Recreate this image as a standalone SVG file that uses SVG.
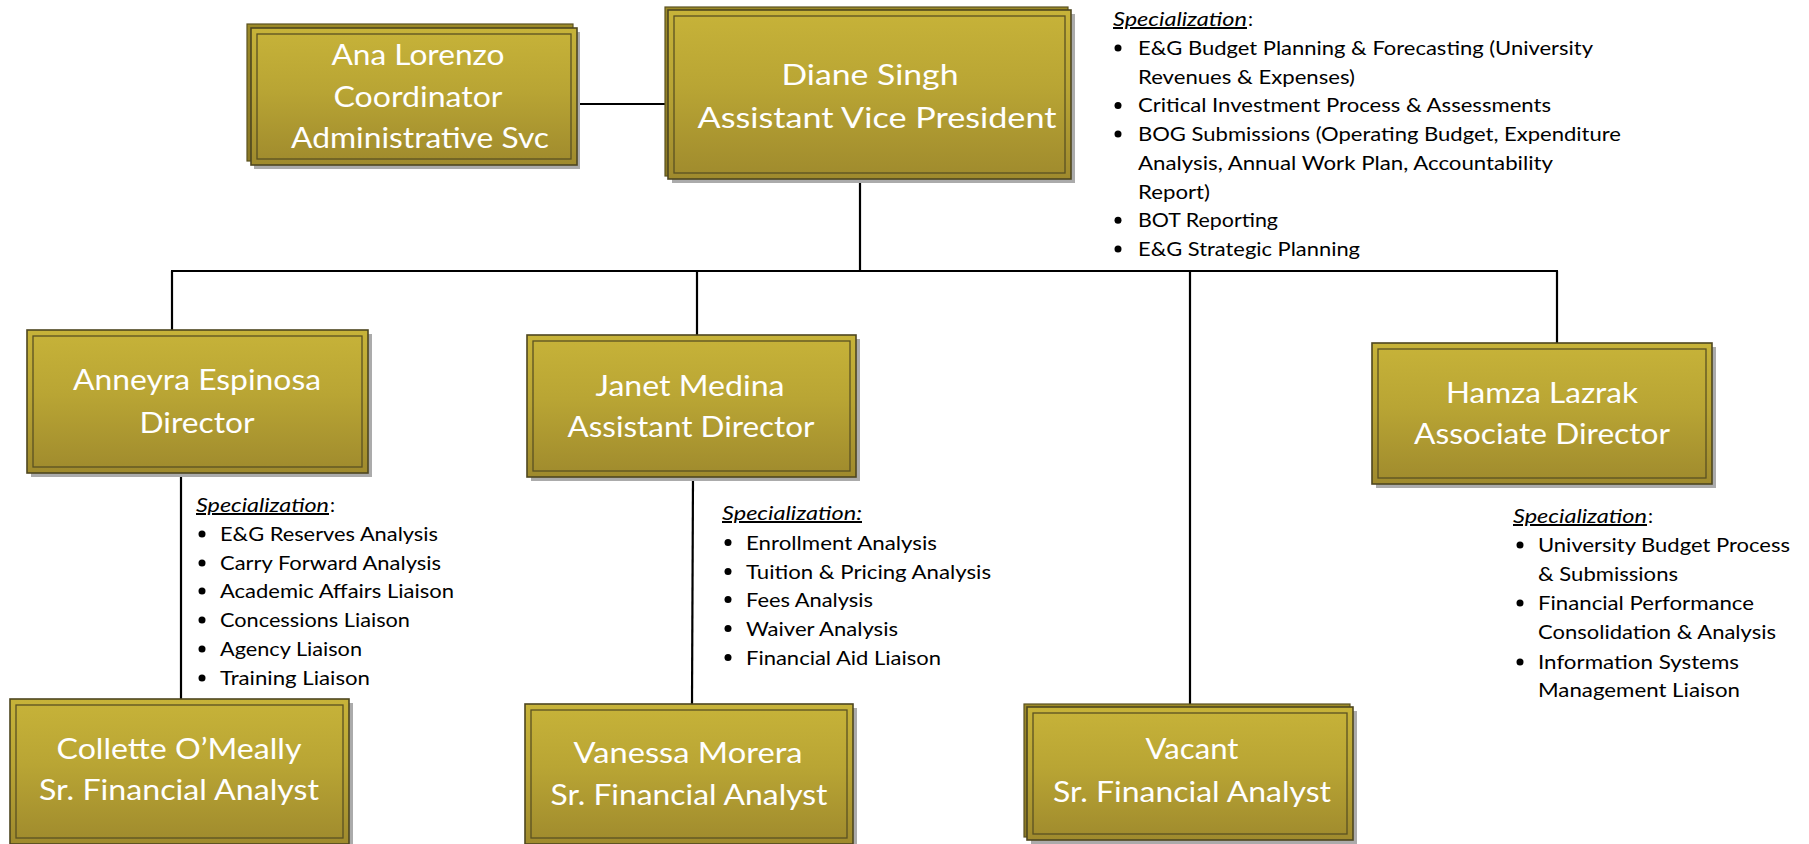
<svg xmlns="http://www.w3.org/2000/svg" width="1809" height="844" viewBox="0 0 1809 844">
<defs>
<linearGradient id="gold" x1="0" y1="0" x2="0" y2="1">
<stop offset="0" stop-color="#c7b339"/>
<stop offset="0.45" stop-color="#b9a534"/>
<stop offset="1" stop-color="#9f8a2d"/>
</linearGradient>
<linearGradient id="goldBack" x1="0" y1="0" x2="0" y2="1">
<stop offset="0" stop-color="#9c8a28"/>
<stop offset="1" stop-color="#8a7825"/>
</linearGradient>
</defs>
<style>
.shadow{fill:#ababab}
.back{fill:url(#goldBack);stroke:#5b5220;stroke-width:1.2}
.box{fill:url(#gold);stroke:#4e4620;stroke-width:1.6}
.inner{fill:none;stroke:#5a5122;stroke-width:1.3}
.title{font-family:Lato,"Open Sans",sans-serif;font-size:29px;fill:#ffffff;text-anchor:middle}
.item{font-family:Lato,"Open Sans",sans-serif;font-size:20px;fill:#000000}
.spec{font-family:Lato,"Open Sans",sans-serif;font-size:20px;font-style:italic;text-decoration:underline;fill:#000000}
.bul{fill:#000000}
.conn{stroke:#000000;stroke-width:2.2;fill:none}
</style>

<g id="connectors">
<line class="conn" x1="577" y1="104" x2="668" y2="104"/>
<line class="conn" x1="860" y1="179" x2="860" y2="271"/>
<line class="conn" x1="171" y1="271" x2="1558" y2="271" stroke-width="2.6"/>
<line class="conn" x1="172" y1="271" x2="172" y2="330"/>
<line class="conn" x1="697" y1="271" x2="697" y2="335"/>
<line class="conn" x1="1190" y1="271" x2="1190" y2="704"/>
<line class="conn" x1="1557" y1="271" x2="1557" y2="343" stroke-width="3"/>
<line class="conn" x1="181" y1="462" x2="181" y2="699"/>
<line class="conn" x1="693" y1="477" x2="692" y2="704"/>
</g>

<g id="ana">
<rect class="shadow" x="254" y="32" width="326" height="137"/>
<rect class="back" x="247" y="24" width="326" height="137"/>
<rect class="box" x="251" y="28" width="326" height="137"/>
<rect class="inner" x="257" y="34" width="314" height="125"/>
<text class="title" x="418" y="65" textLength="173" lengthAdjust="spacingAndGlyphs">Ana Lorenzo</text>
<text class="title" x="418" y="107" textLength="169" lengthAdjust="spacingAndGlyphs">Coordinator</text>
<text class="title" x="420" y="148" textLength="258" lengthAdjust="spacingAndGlyphs">Administrative Svc</text>
</g>

<g id="diane">
<rect class="shadow" x="672" y="14" width="403" height="169"/>
<rect class="back" x="665" y="7" width="403" height="169"/>
<rect class="box" x="668" y="10" width="403" height="169"/>
<rect class="inner" x="674" y="16" width="391" height="157"/>
<text class="title" x="870" y="85" textLength="177" lengthAdjust="spacingAndGlyphs">Diane Singh</text>
<text class="title" x="877" y="128" textLength="359" lengthAdjust="spacingAndGlyphs">Assistant Vice President</text>
</g>

<g id="diane-spec">
<text class="spec" x="1113" y="26" textLength="134" lengthAdjust="spacingAndGlyphs">Specialization</text>
<text class="item" x="1248" y="26">:</text>
<circle class="bul" cx="1118" cy="48" r="3.5"/>
<circle class="bul" cx="1118" cy="105.4" r="3.5"/>
<circle class="bul" cx="1118" cy="134.1" r="3.5"/>
<circle class="bul" cx="1118" cy="220.2" r="3.5"/>
<circle class="bul" cx="1118" cy="248.9" r="3.5"/>
<text class="item" x="1138" y="55" textLength="455" lengthAdjust="spacingAndGlyphs">E&amp;G Budget Planning &amp; Forecasting (University</text>
<text class="item" x="1138" y="83.7" textLength="217" lengthAdjust="spacingAndGlyphs">Revenues &amp; Expenses)</text>
<text class="item" x="1138" y="112.4" textLength="413" lengthAdjust="spacingAndGlyphs">Critical Investment Process &amp; Assessments</text>
<text class="item" x="1138" y="141.1" textLength="483" lengthAdjust="spacingAndGlyphs">BOG Submissions (Operating Budget, Expenditure</text>
<text class="item" x="1138" y="169.8" textLength="415" lengthAdjust="spacingAndGlyphs">Analysis, Annual Work Plan, Accountability</text>
<text class="item" x="1138" y="198.5" textLength="72" lengthAdjust="spacingAndGlyphs">Report)</text>
<text class="item" x="1138" y="227.2" textLength="140" lengthAdjust="spacingAndGlyphs">BOT Reporting</text>
<text class="item" x="1138" y="255.9" textLength="222" lengthAdjust="spacingAndGlyphs">E&amp;G Strategic Planning</text>
</g>

<g id="anneyra">
<rect class="shadow" x="31" y="334" width="341" height="143"/>
<rect class="box" x="27" y="330" width="341" height="143"/>
<rect class="inner" x="33" y="336" width="329" height="131"/>
<text class="title" x="197" y="390" textLength="248" lengthAdjust="spacingAndGlyphs">Anneyra Espinosa</text>
<text class="title" x="197" y="433" textLength="115" lengthAdjust="spacingAndGlyphs">Director</text>
</g>

<g id="anneyra-spec">
<text class="spec" x="196" y="512" textLength="133" lengthAdjust="spacingAndGlyphs">Specialization</text>
<text class="item" x="330" y="512">:</text>
<circle class="bul" cx="202" cy="534" r="3.5"/>
<circle class="bul" cx="202" cy="563" r="3.5"/>
<circle class="bul" cx="202" cy="591" r="3.5"/>
<circle class="bul" cx="202" cy="620" r="3.5"/>
<circle class="bul" cx="202" cy="649" r="3.5"/>
<circle class="bul" cx="202" cy="678" r="3.5"/>
<text class="item" x="220" y="541" textLength="218" lengthAdjust="spacingAndGlyphs">E&amp;G Reserves Analysis</text>
<text class="item" x="220" y="570" textLength="221" lengthAdjust="spacingAndGlyphs">Carry Forward Analysis</text>
<text class="item" x="220" y="598" textLength="234" lengthAdjust="spacingAndGlyphs">Academic Affairs Liaison</text>
<text class="item" x="220" y="627" textLength="190" lengthAdjust="spacingAndGlyphs">Concessions Liaison</text>
<text class="item" x="220" y="656" textLength="142" lengthAdjust="spacingAndGlyphs">Agency Liaison</text>
<text class="item" x="220" y="685" textLength="150" lengthAdjust="spacingAndGlyphs">Training Liaison</text>
</g>

<g id="janet">
<rect class="shadow" x="531" y="339" width="329" height="142"/>
<rect class="box" x="527" y="335" width="329" height="142"/>
<rect class="inner" x="533" y="341" width="317" height="130"/>
<text class="title" x="690" y="396" textLength="189" lengthAdjust="spacingAndGlyphs">Janet Medina</text>
<text class="title" x="691" y="437" textLength="247" lengthAdjust="spacingAndGlyphs">Assistant Director</text>
</g>

<g id="janet-spec">
<text class="spec" x="722" y="520" textLength="140" lengthAdjust="spacingAndGlyphs">Specialization:</text>
<circle class="bul" cx="728" cy="542.5" r="3.5"/>
<circle class="bul" cx="728" cy="571.5" r="3.5"/>
<circle class="bul" cx="728" cy="599.5" r="3.5"/>
<circle class="bul" cx="728" cy="628.5" r="3.5"/>
<circle class="bul" cx="728" cy="657.5" r="3.5"/>
<text class="item" x="746" y="549.5" textLength="191" lengthAdjust="spacingAndGlyphs">Enrollment Analysis</text>
<text class="item" x="746" y="578.5" textLength="245" lengthAdjust="spacingAndGlyphs">Tuition &amp; Pricing Analysis</text>
<text class="item" x="746" y="606.5" textLength="127" lengthAdjust="spacingAndGlyphs">Fees Analysis</text>
<text class="item" x="746" y="635.5" textLength="152" lengthAdjust="spacingAndGlyphs">Waiver Analysis</text>
<text class="item" x="746" y="664.5" textLength="195" lengthAdjust="spacingAndGlyphs">Financial Aid Liaison</text>
</g>

<g id="hamza">
<rect class="shadow" x="1376" y="347" width="340" height="141"/>
<rect class="box" x="1372" y="343" width="340" height="141"/>
<rect class="inner" x="1378" y="349" width="328" height="129"/>
<text class="title" x="1542" y="403" textLength="192" lengthAdjust="spacingAndGlyphs">Hamza Lazrak</text>
<text class="title" x="1542" y="444" textLength="256" lengthAdjust="spacingAndGlyphs">Associate Director</text>
</g>

<g id="hamza-spec">
<text class="spec" x="1513" y="523" textLength="134" lengthAdjust="spacingAndGlyphs">Specialization</text>
<text class="item" x="1648" y="523">:</text>
<circle class="bul" cx="1520" cy="545" r="3.5"/>
<circle class="bul" cx="1520" cy="603" r="3.5"/>
<circle class="bul" cx="1520" cy="662" r="3.5"/>
<text class="item" x="1538" y="552" textLength="252" lengthAdjust="spacingAndGlyphs">University Budget Process</text>
<text class="item" x="1538" y="581" textLength="140" lengthAdjust="spacingAndGlyphs">&amp; Submissions</text>
<text class="item" x="1538" y="610" textLength="216" lengthAdjust="spacingAndGlyphs">Financial Performance</text>
<text class="item" x="1538" y="639" textLength="238" lengthAdjust="spacingAndGlyphs">Consolidation &amp; Analysis</text>
<text class="item" x="1538" y="669" textLength="201" lengthAdjust="spacingAndGlyphs">Information Systems</text>
<text class="item" x="1538" y="697" textLength="202" lengthAdjust="spacingAndGlyphs">Management Liaison</text>
</g>

<g id="collette">
<rect class="shadow" x="14" y="703" width="339" height="145"/>
<rect class="box" x="10" y="699" width="339" height="145"/>
<rect class="inner" x="16" y="705" width="327" height="133"/>
<text class="title" x="179" y="759" textLength="245" lengthAdjust="spacingAndGlyphs">Collette O’Meally</text>
<text class="title" x="179" y="800" textLength="280" lengthAdjust="spacingAndGlyphs">Sr. Financial Analyst</text>
</g>

<g id="vanessa">
<rect class="shadow" x="529" y="708" width="328" height="140"/>
<rect class="box" x="525" y="704" width="328" height="140"/>
<rect class="inner" x="531" y="710" width="316" height="128"/>
<text class="title" x="688" y="763" textLength="229" lengthAdjust="spacingAndGlyphs">Vanessa Morera</text>
<text class="title" x="689" y="805" textLength="277" lengthAdjust="spacingAndGlyphs">Sr. Financial Analyst</text>
</g>

<g id="vacant">
<rect class="shadow" x="1031" y="711" width="326" height="133"/>
<rect class="back" x="1024" y="704" width="326" height="133"/>
<rect class="box" x="1027" y="707" width="326" height="133"/>
<rect class="inner" x="1033" y="713" width="314" height="121"/>
<text class="title" x="1192" y="759" textLength="93" lengthAdjust="spacingAndGlyphs">Vacant</text>
<text class="title" x="1192" y="802" textLength="278" lengthAdjust="spacingAndGlyphs">Sr. Financial Analyst</text>
</g>
</svg>
